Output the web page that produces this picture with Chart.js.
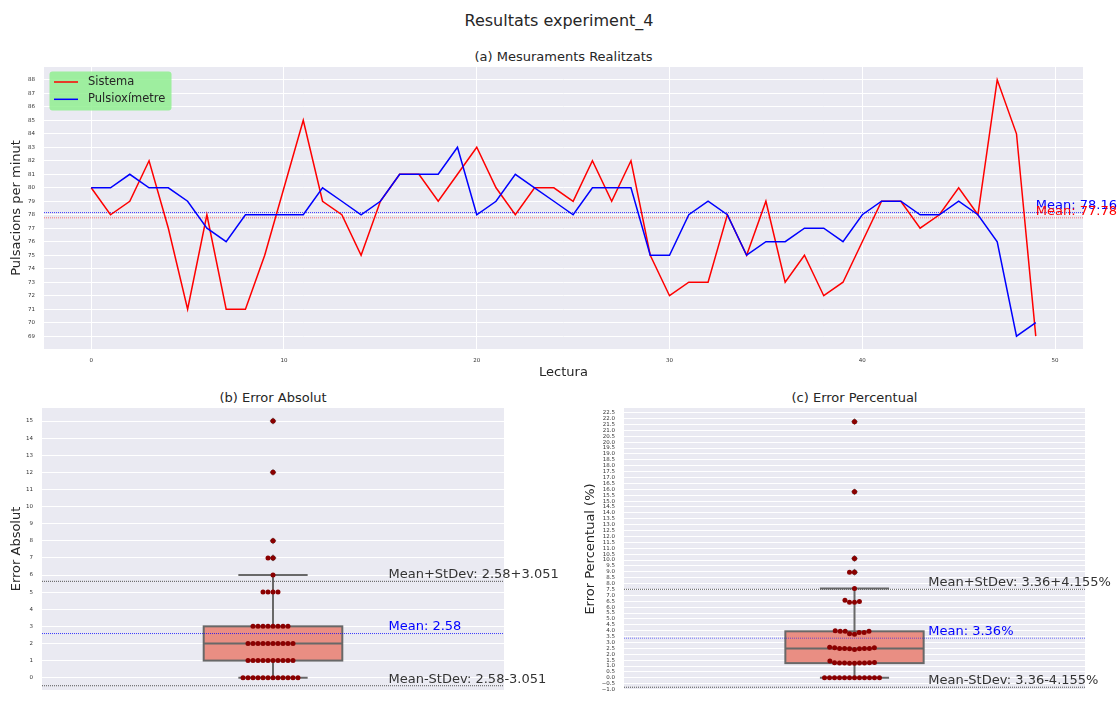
<!DOCTYPE html>
<html>
<head>
<meta charset="utf-8">
<title>Resultats experiment_4</title>
<script src="https://cdn.jsdelivr.net/npm/chart.js@4.4.1/dist/chart.umd.min.js"></script>
<style>
  body { margin: 0; width: 1118px; height: 703px; background: #fff; position: relative; overflow: hidden;
         font-family: "DejaVu Sans", sans-serif; color: #262626; }
  .title { position: absolute; text-align: center; white-space: nowrap; line-height: 1.2; }
  .panel { position: absolute; }
</style>
</head>
<body>
<div class="title" style="left:0;width:1118px;top:11px;font-size:16px;">Resultats experiment_4</div>
<div class="title" style="left:44px;width:1039px;top:49px;font-size:13px;">(a) Mesuraments Realitzats</div>
<div class="title" style="left:42px;width:462px;top:390px;font-size:13px;">(b) Error Absolut</div>
<div class="title" style="left:624px;width:461px;top:390px;font-size:13px;">(c) Error Percentual</div>

<div class="panel" style="left:0;top:60px;"><canvas id="chartA" width="1118" height="325"></canvas></div>
<div class="panel" style="left:0;top:400px;"><canvas id="chartB" width="575" height="303"></canvas></div>
<div class="panel" style="left:575px;top:400px;"><canvas id="chartC" width="543" height="303"></canvas></div>

<script>
// --- data ---
const lectura = [0, 1, 2, 3, 4, 5, 6, 7, 8, 9, 10, 11, 12, 13, 14, 15, 16, 17, 18, 19, 20, 21, 22, 23, 24,
                 25, 26, 27, 28, 29, 30, 31, 32, 33, 34, 35, 36, 37, 38, 39, 40, 41, 42, 43, 44, 45, 46, 47, 48, 49];
const sistema = [80, 78, 79, 82, 77, 71, 78, 71, 71, 75, 80, 85, 79, 78, 75, 79, 81, 81, 79, 81,
                 83, 80, 78, 80, 80, 79, 82, 79, 82, 75, 72, 73, 73, 78, 75, 79, 73, 75, 72, 73,
                 76, 79, 79, 77, 78, 80, 78, 88, 84, 69];
const pulsioximetre = [80, 80, 81, 80, 80, 79, 77, 76, 78, 78, 78, 78, 80, 79, 78, 79, 81, 81, 81, 83,
                       78, 79, 81, 80, 79, 78, 80, 80, 80, 75, 75, 78, 79, 78, 75, 76, 76, 77, 77, 76,
                       78, 79, 79, 78, 78, 79, 78, 76, 69, 70];
const errorAbsolut = [0, 2, 2, 2, 3, 8, 1, 5, 7, 3, 2, 7, 1, 1, 3, 0, 0, 0, 2, 2,
                      5, 1, 3, 0, 1, 1, 2, 1, 2, 0, 3, 5, 6, 0, 0, 3, 3, 2, 5, 3,
                      2, 0, 0, 1, 0, 1, 0, 12, 15, 1];
const errorPercentual = [0, 2.5, 2.47, 2.5, 3.75, 10.13, 1.3, 6.58, 8.97, 3.85, 2.56, 8.97, 1.25, 1.27, 3.85, 0, 0, 0, 2.47, 2.41,
                         6.41, 1.27, 3.7, 0, 1.27, 1.28, 2.5, 1.25, 2.5, 0, 4.0, 6.41, 7.59, 0, 0, 3.95, 3.95, 2.6, 6.49, 3.95,
                         2.56, 0, 0, 1.28, 0, 1.27, 0, 15.79, 21.74, 1.43];
const meanSistema = 77.78, meanPulsi = 78.16;
const absMean = 2.58, absStd = 3.051;
const pctMean = 3.36, pctStd = 4.155;

Chart.defaults.font.family = "'DejaVu Sans', sans-serif";
Chart.defaults.color = '#333';

const TXT = '#262626';
const BG = '#EAEAF2';

// plot background
Chart.register({
  id: 'plotBg',
  beforeDraw(chart) {
    const { ctx, chartArea: a } = chart;
    ctx.save();
    ctx.fillStyle = BG;
    ctx.fillRect(a.left, a.top, a.right - a.left, a.bottom - a.top);
    ctx.restore();
  }
});

function quantile(sorted, p) {
  const pos = (sorted.length - 1) * p;
  const lo = Math.floor(pos), hi = Math.ceil(pos);
  return sorted[lo] + (sorted[hi] - sorted[lo]) * (pos - lo);
}

function boxStats(values) {
  const s = [...values].sort((a, b) => a - b);
  const q1 = quantile(s, 0.25), med = quantile(s, 0.5), q3 = quantile(s, 0.75);
  const iqr = q3 - q1;
  const inside = s.filter(v => v >= q1 - 1.5 * iqr && v <= q3 + 1.5 * iqr);
  return { q1, med, q3, lo: inside[0], hi: inside[inside.length - 1],
           fliers: s.filter(v => v < q1 - 1.5 * iqr || v > q3 + 1.5 * iqr) };
}

// box + whiskers
Chart.register({
  id: 'boxPlot',
  beforeDatasetsDraw(chart, args, opts) {
    if (!opts.values) return;
    const { ctx, scales: { x, y } } = chart;
    const st = boxStats(opts.values);
    const xc = x.getPixelForValue(0);
    const b0 = x.getPixelForValue(-0.15), b1 = x.getPixelForValue(0.15);
    const c0 = x.getPixelForValue(-0.075), c1 = x.getPixelForValue(0.075);
    ctx.save();
    ctx.strokeStyle = '#686868';
    ctx.lineWidth = 2;
    ctx.beginPath();
    ctx.moveTo(xc, y.getPixelForValue(st.q3)); ctx.lineTo(xc, y.getPixelForValue(st.hi));
    ctx.moveTo(xc, y.getPixelForValue(st.q1)); ctx.lineTo(xc, y.getPixelForValue(st.lo));
    ctx.moveTo(c0, y.getPixelForValue(st.hi)); ctx.lineTo(c1, y.getPixelForValue(st.hi));
    ctx.moveTo(c0, y.getPixelForValue(st.lo)); ctx.lineTo(c1, y.getPixelForValue(st.lo));
    ctx.stroke();
    const yt = y.getPixelForValue(st.q3), yb = y.getPixelForValue(st.q1);
    ctx.fillStyle = '#E98E83';
    ctx.fillRect(b0, yt, b1 - b0, yb - yt);
    ctx.strokeRect(b0, yt, b1 - b0, yb - yt);
    ctx.beginPath();
    ctx.moveTo(b0, y.getPixelForValue(st.med)); ctx.lineTo(b1, y.getPixelForValue(st.med));
    ctx.stroke();
    ctx.restore();
  }
});

// horizontal reference lines + their labels
Chart.register({
  id: 'refLines',
  beforeDatasetsDraw(chart, args, opts) {
    const { ctx, chartArea: a, scales: { x, y } } = chart;
    ctx.save();
    (opts.lines || []).forEach(l => {
      const py = y.getPixelForValue(l.value);
      ctx.strokeStyle = l.color;
      ctx.lineWidth = l.width;
      ctx.setLineDash(l.dash);
      ctx.beginPath();
      ctx.moveTo(a.left, py); ctx.lineTo(a.right, py);
      ctx.stroke();
    });
    ctx.restore();
  },
  afterDraw(chart, args, opts) {
    const { ctx, scales: { x, y } } = chart;
    ctx.save();
    ctx.textBaseline = 'bottom';
    ctx.textAlign = 'left';
    (opts.labels || []).forEach(l => {
      ctx.font = l.size + "px 'DejaVu Sans'";
      ctx.fillStyle = l.color;
      ctx.fillText(l.text, x.getPixelForValue(l.x), y.getPixelForValue(l.y));
    });
    ctx.restore();
  }
});

// legend box inside the top plot
const legendBox = {
  id: 'legendBox',
  afterDraw(chart) {
    const { ctx } = chart;
    const items = chart.data.datasets.filter(d => d.legendPos !== undefined)
      .sort((a, b) => a.legendPos - b.legendPos);
    ctx.save();
    ctx.fillStyle = 'rgba(144,238,144,0.85)';
    ctx.beginPath();
    ctx.roundRect(49.5, 11.5, 122, 39, 3);
    ctx.fill();
    ctx.font = "11.5px 'DejaVu Sans'";
    ctx.textBaseline = 'middle';
    items.forEach((d, i) => {
      const ly = 22 + i * 17.3;
      ctx.strokeStyle = d.borderColor;
      ctx.lineWidth = 1.5;
      ctx.beginPath();
      ctx.moveTo(54, ly); ctx.lineTo(78, ly);
      ctx.stroke();
      ctx.fillStyle = TXT;
      ctx.fillText(d.label, 88, ly);
    });
    ctx.restore();
  }
};

const tickFont = { size: 5.5 };
const axisTitleFont = { size: 13 };

// y axes: fixed width, no extra label overhang above/below the plot
function fixY(width) {
  return s => { s.width = width; s.paddingTop = 0; s.paddingBottom = 0; };
}

// (a) line chart
new Chart(document.getElementById('chartA'), {
  type: 'line',
  data: {
    datasets: [
      { label: 'Sistema', data: sistema.map((v, i) => ({ x: lectura[i], y: v })),
        borderColor: 'red', borderWidth: 1.5, pointRadius: 0, tension: 0, order: 1, legendPos: 0 },
      { label: 'Pulsioxímetre', data: pulsioximetre.map((v, i) => ({ x: lectura[i], y: v })),
        borderColor: 'blue', borderWidth: 1.5, pointRadius: 0, tension: 0, order: 0, legendPos: 1 }
    ]
  },
  options: {
    responsive: false,
    animation: false,
    layout: { padding: { left: 0, top: 7, right: 35, bottom: 0 } },
    plugins: {
      legend: { display: false },
      tooltip: { enabled: false },
      refLines: {
        lines: [
          { value: meanPulsi, color: 'rgba(0,0,255,0.75)', width: 1, dash: [1, 1] },
          { value: meanSistema, color: 'rgba(255,0,0,0.35)', width: 1.5, dash: [1, 1] }
        ],
        labels: [
          { text: 'Mean: ' + meanPulsi.toFixed(2), x: 49, y: meanPulsi, color: 'blue', size: 13 },
          { text: 'Mean: ' + meanSistema.toFixed(2), x: 49, y: meanSistema, color: 'red', size: 13 }
        ]
      }
    },
    scales: {
      x: {
        type: 'linear', min: -2.45, max: 51.45,
        afterFit: s => { s.height = 36; },
        ticks: { stepSize: 10, includeBounds: false, font: tickFont, padding: 8.7 },
        grid: { color: '#fff', drawTicks: false },
        border: { display: false },
        title: { display: true, text: 'Lectura', font: axisTitleFont, color: TXT, padding: { top: 0, bottom: 4.6 } }
      },
      y: {
        min: 68.05, max: 88.95,
        afterFit: fixY(44),
        ticks: { stepSize: 1, includeBounds: false, autoSkip: false, maxTicksLimit: 100, font: tickFont, padding: 9 },
        grid: { color: '#fff', drawTicks: false },
        border: { display: false },
        title: { display: true, text: 'Pulsacions per minut', font: axisTitleFont, color: TXT, padding: { top: 9.2, bottom: 0 } }
      }
    }
  },
  plugins: [legendBox]
});

// beeswarm placement (pixel space), after the scales exist
function placeSwarm(chart, values, r) {
  const xs = chart.scales.x, ys = chart.scales.y;
  const cx = xs.getPixelForValue(0);
  const order = values.map((v, i) => i).sort((a, b) => values[a] - values[b] || a - b);
  const placed = [];
  const pts = [];
  order.forEach(i => {
    const py = ys.getPixelForValue(values[i]);
    const nb = placed.filter(p => Math.abs(p.y - py) < 2 * r);
    const cands = [0];
    let leftFirst = true;
    nb.forEach(n => {
      const dy = py - n.y;
      const dx = Math.sqrt(Math.max(4 * r * r - dy * dy, 0)) * 1.05;
      if (leftFirst) cands.push(n.x - dx, n.x + dx); else cands.push(n.x + dx, n.x - dx);
      leftFirst = !leftFirst;
    });
    const sorted = cands.map((c, k) => [Math.abs(c), k, c]).sort((a, b) => a[0] - b[0] || a[1] - b[1]);
    let off = 0;
    for (const [, , c] of sorted) {
      if (nb.every(n => Math.hypot(c - n.x, py - n.y) >= 2 * r - 1e-6)) { off = c; break; }
    }
    placed.push({ x: off, y: py });
    pts.push({ x: xs.getValueForPixel(cx + off), y: values[i] });
  });
  chart.data.datasets[0].data = pts;
  chart.update('none');
}

function errorChart(id, values, yOpts, stats, labelX, yAxisWidth, padRight, meanStyle) {
  const st = boxStats(values);
  const chart = new Chart(document.getElementById(id), {
    type: 'scatter',
    data: {
      datasets: [
        { label: 'swarm', data: values.map(v => ({ x: 0, y: v })),
          backgroundColor: '#8B0000', borderWidth: 0, pointRadius: 2.5, pointHoverRadius: 2.5 },
        { label: 'fliers', data: st.fliers.map(v => ({ x: 0, y: v })),
          pointStyle: 'rectRot', backgroundColor: '#686868', borderWidth: 0, pointRadius: 3.4 }
      ]
    },
    options: {
      responsive: false,
      animation: false,
      layout: { padding: { left: 0, top: 8, right: padRight, bottom: 0 } },
      plugins: {
        legend: { display: false },
        tooltip: { enabled: false },
        boxPlot: { values },
        refLines: {
          lines: [
            { value: stats.mean + stats.std, color: '#555', width: 1, dash: [1, 1] },
            { value: stats.mean, color: meanStyle.color, width: meanStyle.width, dash: [1, 1] },
            { value: stats.mean - stats.std, color: '#555', width: 1, dash: [1, 1] }
          ],
          labels: [
            { text: 'Mean+StDev: ' + stats.mean + '+' + stats.std + stats.unit, x: labelX, y: stats.mean + stats.std, color: '#333', size: 13 },
            { text: 'Mean: ' + stats.mean + stats.unit, x: labelX, y: stats.mean, color: 'blue', size: 13 },
            { text: 'Mean-StDev: ' + stats.mean + '-' + stats.std + stats.unit, x: labelX, y: stats.mean - stats.std, color: '#333', size: 13 }
          ]
        }
      },
      scales: {
        x: {
          type: 'linear', min: -0.5, max: 0.5,
          afterFit: s => { s.height = 13; },
          afterBuildTicks: s => { s.ticks = [{ value: 0 }]; },
          ticks: { font: tickFont, padding: 8 },
          grid: { display: false },
          border: { display: false }
        },
        y: {
          min: yOpts.min, max: yOpts.max,
          afterFit: fixY(yAxisWidth),
          ticks: { stepSize: yOpts.step, includeBounds: false, autoSkip: false, maxTicksLimit: 200,
                   font: tickFont, padding: 9, callback: yOpts.fmt },
          grid: { color: '#fff', drawTicks: false },
          border: { display: false },
          title: { display: true, text: yOpts.title, font: axisTitleFont, color: TXT,
                   padding: { top: yOpts.titlePad, bottom: 0 } }
        }
      }
    }
  });
  placeSwarm(chart, values, 2.38);
  return chart;
}

// (b) absolute error
errorChart('chartB', errorAbsolut,
  { min: -0.72, max: 15.76, step: 1, title: 'Error Absolut', titlePad: 9.2, fmt: v => v },
  { mean: absMean, std: absStd, unit: '' }, 0.25, 42, 71,
  { color: 'rgba(0,0,255,0.75)', width: 1 });

// (c) percentage error
errorChart('chartC', errorPercentual,
  { min: -1.03, max: 22.9, step: 0.5, title: 'Error Percentual (%)', titlePad: 8.2,
    fmt: v => (v < 0 ? '\u2212' + Math.abs(v).toFixed(1) : v.toFixed(1)) },
  { mean: pctMean, std: pctStd, unit: '%' }, 0.16, 49, 33,
  { color: 'rgba(0,0,255,0.35)', width: 1.5 });
</script>
</body>
</html>
